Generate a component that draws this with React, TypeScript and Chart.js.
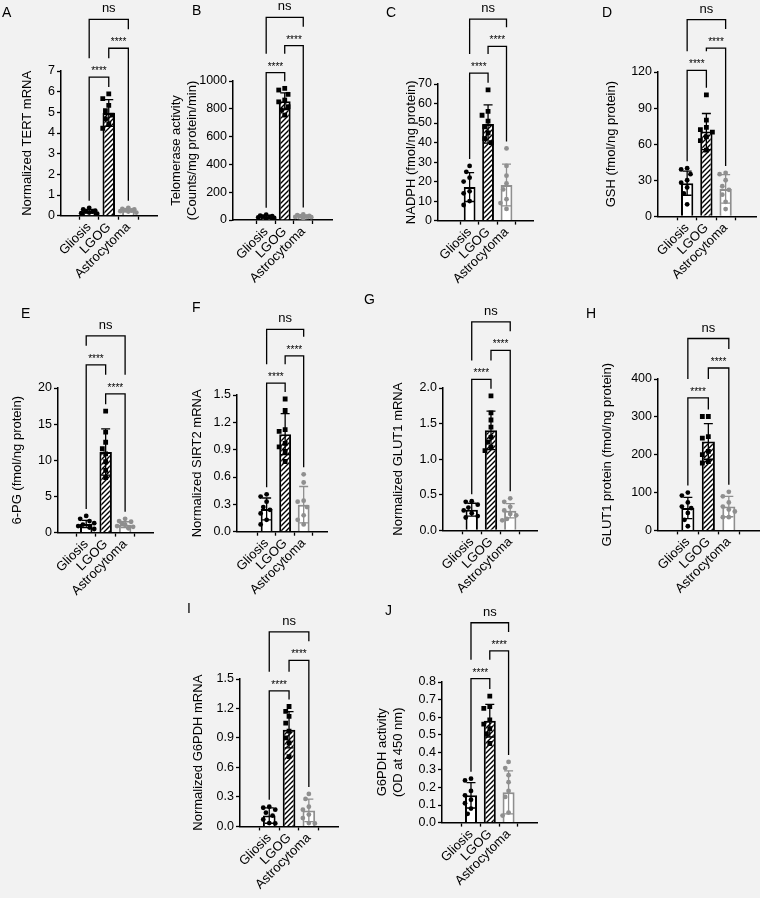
import React, { useEffect, useRef } from 'react';
import { Chart, registerables } from 'chart.js';

Chart.register(...registerables);

const FONT = '"Liberation Sans", Arial, Helvetica, sans-serif';
const GROUPS = ['Gliosis', 'LGOG', 'Astrocytoma'];
const PAIRS: [number, number][] = [[0, 1], [1, 2], [0, 2]];
const SIG = ['****', '****', 'ns'];

// ---- Panel A: Normalized TERT mRNA
const A_TICKS = [0, 1, 2, 3, 4, 5, 6, 7];
const A_MEAN = [0.21, 4.97, 0.26];
const A_SD = [0.09, 0.65, 0.07];
const A_GLIOSIS = [0.38, 0.3, 0.25, 0.22, 0.2, 0.15, 0.12, 0.1];
const A_LGOG = [5.89, 5.66, 5.34, 5.08, 4.87, 4.68, 4.44, 4.23];
const A_ASTRO = [0.38, 0.33, 0.3, 0.27, 0.25, 0.22, 0.2, 0.15];
const A_SIG_Y = [6.7, 8.1, 9.5];

// ---- Panel B: Telomerase activity
const B_TICKS = [0, 200, 400, 600, 800, 1000];
const B_MEAN = [23.5, 855, 26.8];
const B_SD = [9, 60, 8];
const B_GLIOSIS = [38, 32, 28, 25, 22, 18, 15, 10];
const B_LGOG = [947, 935, 904, 863, 850, 815, 791, 755];
const B_ASTRO = [40, 35, 30, 27, 25, 22, 20, 15];
const B_SIG_Y = [1060, 1254, 1458];

// ---- Panel C: NADPH
const C_TICKS = [0, 10, 20, 30, 40, 50, 60, 70];
const C_MEAN = [17.2, 49.5, 18.2];
const C_SD = [7.4, 9.8, 10.7];
const C_GLIOSIS = [28, 25, 22, 20, 15, 14, 10, 8];
const C_LGOG = [67, 56, 54, 51, 48, 45, 42, 40];
const C_ASTRO = [37, 28, 23, 19, 16, 11, 9, 6];
const C_SIG_Y = [75.6, 89.3, 103.2];

// ---- Panel D: GSH
const D_TICKS = [0, 30, 60, 90, 120];
const D_MEAN = [27.5, 70.5, 22.8];
const D_SD = [10, 15, 11.8];
const D_GLIOSIS = [40, 39, 35, 30, 28, 24, 19, 10];
const D_LGOG = [101, 80, 74, 72, 70, 66, 63, 55];
const D_ASTRO = [36, 35, 30, 25, 22, 18, 12, 6];
const D_SIG_Y = [121.4, 139.9, 163.5];

// ---- Panel E: 6-PG
const E_TICKS = [0, 5, 10, 15, 20];
const E_MEAN = [1.2, 11.15, 1.1];
const E_SD = [0.5, 3.2, 0.4];
const E_GLIOSIS = [2.3, 1.9, 1.6, 1.3, 1.1, 0.9, 0.7, 0.5];
const E_LGOG = [16.8, 13.9, 12.5, 11.6, 10.9, 9.8, 8.6, 7.6];
const E_ASTRO = [1.9, 1.6, 1.5, 1.3, 1.1, 0.9, 0.8, 0.6];
const E_SIG_Y = [23.2, 19.2, 27.2];

// ---- Panel F: Normalized SIRT2 mRNA
const F_TICKS = [0, 0.3, 0.6, 0.9, 1.2, 1.5];
const F_MEAN = [0.25, 1.07, 0.296];
const F_SD = [0.12, 0.225, 0.2];
const F_GLIOSIS = [0.41, 0.385, 0.33, 0.27, 0.24, 0.2, 0.13, 0.08];
const F_LGOG = [1.456, 1.33, 1.12, 1.1, 0.97, 0.93, 0.88, 0.77];
const F_ASTRO = [0.63, 0.54, 0.34, 0.33, 0.27, 0.18, 0.13, 0.08];
const F_SIG_Y = [1.63, 1.93, 2.22];

// ---- Panel G: Normalized GLUT1 mRNA
const G_TICKS = [0, 0.5, 1.0, 1.5, 2.0];
const G_MEAN = [0.29, 1.405, 0.276];
const G_SD = [0.09, 0.27, 0.1];
const G_GLIOSIS = [0.41, 0.4, 0.36, 0.32, 0.28, 0.24, 0.2, 0.18];
const G_LGOG = [1.89, 1.65, 1.55, 1.45, 1.31, 1.24, 1.17, 1.12];
const G_ASTRO = [0.45, 0.4, 0.33, 0.28, 0.23, 0.21, 0.16, 0.14];
const G_SIG_Y = [2.12, 2.53, 2.93];

// ---- Panel H: GLUT1 protein
const H_TICKS = [0, 100, 200, 300, 400];
const H_MEAN = [59, 235, 63];
const H_SD = [28, 47, 27];
const H_GLIOSIS = [100, 92, 74, 63, 59, 46, 28, 11];
const H_LGOG = [301, 301, 248, 244, 209, 200, 182, 178];
const H_ASTRO = [102, 90, 74, 63, 55, 50, 35, 35];
const H_SIG_Y = [350, 429, 507];

// ---- Panel I: Normalized G6PDH mRNA
const I_TICKS = [0, 0.3, 0.6, 0.9, 1.2, 1.5];
const I_MEAN = [0.11, 0.984, 0.163];
const I_SD = [0.078, 0.185, 0.115];
const I_GLIOSIS = [0.2, 0.19, 0.17, 0.14, 0.11, 0.07, 0.034, 0.03];
const I_LGOG = [1.22, 1.17, 1.12, 1.05, 0.97, 0.9, 0.85, 0.71];
const I_ASTRO = [0.33, 0.28, 0.2, 0.17, 0.12, 0.085, 0.034, 0.03];
const I_SIG_Y = [1.38, 1.69, 1.98];

// ---- Panel J: G6PDH activity
const J_TICKS = [0, 0.1, 0.2, 0.3, 0.4, 0.5, 0.6, 0.7, 0.8];
const J_MEAN = [0.155, 0.58, 0.172];
const J_SD = [0.072, 0.093, 0.122];
const J_GLIOSIS = [0.25, 0.24, 0.18, 0.155, 0.13, 0.11, 0.08, 0.05];
const J_LGOG = [0.72, 0.66, 0.65, 0.585, 0.56, 0.535, 0.505, 0.45];
const J_ASTRO = [0.345, 0.31, 0.27, 0.23, 0.18, 0.146, 0.057, 0.04];
const J_SIG_Y = [0.819, 0.977, 1.137];

type Layout = {
  axisX: number; axisR: number; yTop: number; yBot: number;
  xMin: number; xMax: number; titlePad: number; letterX: number; letterY: number;
};

type Spec = {
  letter: string; title: string | string[]; ticks: number[]; decimals: number;
  mean: number[]; sd: number[]; points: number[][]; sigY: number[]; layout: Layout;
};

const SPECS: Spec[] = [
  { letter: 'A', title: 'Normalized TERT mRNA', ticks: A_TICKS, decimals: 0, mean: A_MEAN, sd: A_SD,
    points: [A_GLIOSIS, A_LGOG, A_ASTRO], sigY: A_SIG_Y,
    layout: { axisX: 60.7, axisR: 157, yTop: 71, yBot: 215.7, xMin: -0.62, xMax: 2.66, titlePad: 28.5, letterX: 2, letterY: 5.2 } },
  { letter: 'B', title: ['Telomerase activity', '(Counts/mg protein/min)'], ticks: B_TICKS, decimals: 0, mean: B_MEAN, sd: B_SD,
    points: [B_GLIOSIS, B_LGOG, B_ASTRO], sigY: B_SIG_Y,
    layout: { axisX: 232.7, axisR: 331.7, yTop: 81, yBot: 220, xMin: -0.9, xMax: 2.66, titlePad: 5.2, letterX: 192, letterY: 3.2 } },
  { letter: 'C', title: 'NADPH (fmol/ng protein)', ticks: C_TICKS, decimals: 0, mean: C_MEAN, sd: C_SD,
    points: [C_GLIOSIS, C_LGOG, C_ASTRO], sigY: C_SIG_Y,
    layout: { axisX: 438.3, axisR: 534, yTop: 83.7, yBot: 220.3, xMin: -0.85, xMax: 2.61, titlePad: 35.3, letterX: 386, letterY: 5.2 } },
  { letter: 'D', title: 'GSH (fmol/ng protein)', ticks: D_TICKS, decimals: 0, mean: D_MEAN, sd: D_SD,
    points: [D_GLIOSIS, D_LGOG, D_ASTRO], sigY: D_SIG_Y,
    layout: { axisX: 658.3, axisR: 757, yTop: 71.7, yBot: 216, xMin: -0.66, xMax: 2.76, titlePad: 15.3, letterX: 602, letterY: 5.2 } },
  { letter: 'E', title: '6-PG (fmol/ng protein)', ticks: E_TICKS, decimals: 0, mean: E_MEAN, sd: E_SD,
    points: [E_GLIOSIS, E_LGOG, E_ASTRO], sigY: E_SIG_Y,
    layout: { axisX: 58.3, axisR: 154, yTop: 387.7, yBot: 532.3, xMin: -0.63, xMax: 2.65, titlePad: 20.9, letterX: 21, letterY: 306.2 } },
  { letter: 'F', title: 'Normalized SIRT2 mRNA', ticks: F_TICKS, decimals: 1, mean: F_MEAN, sd: F_SD,
    points: [F_GLIOSIS, F_LGOG, F_ASTRO], sigY: F_SIG_Y,
    layout: { axisX: 236.7, axisR: 326.7, yTop: 395, yBot: 531.7, xMin: -0.79, xMax: 2.45, titlePad: 22.5, letterX: 192, letterY: 300.2 } },
  { letter: 'G', title: 'Normalized GLUT1 mRNA', ticks: G_TICKS, decimals: 1, mean: G_MEAN, sd: G_SD,
    points: [G_GLIOSIS, G_LGOG, G_ASTRO], sigY: G_SIG_Y,
    layout: { axisX: 443.3, axisR: 538.3, yTop: 387.7, yBot: 530, xMin: -0.67, xMax: 2.62, titlePad: 16.9, letterX: 364, letterY: 292.2 } },
  { letter: 'H', title: 'GLUT1 protein (fmol/ng protein)', ticks: H_TICKS, decimals: 0, mean: H_MEAN, sd: H_SD,
    points: [H_GLIOSIS, H_LGOG, H_ASTRO], sigY: H_SIG_Y,
    layout: { axisX: 658.3, axisR: 760, yTop: 379.3, yBot: 530.7, xMin: -0.63, xMax: 2.68, titlePad: 11.3, letterX: 586, letterY: 306.2 } },
  { letter: 'I', title: 'Normalized G6PDH mRNA', ticks: I_TICKS, decimals: 1, mean: I_MEAN, sd: I_SD,
    points: [I_GLIOSIS, I_LGOG, I_ASTRO], sigY: I_SIG_Y,
    layout: { axisX: 240, axisR: 338.3, yTop: 679.3, yBot: 826.7, xMin: -0.65, xMax: 2.66, titlePad: 20.2, letterX: 187, letterY: 601.2 } },
  { letter: 'J', title: ['G6PDH activity', '(OD at 450 nm)'], ticks: J_TICKS, decimals: 1, mean: J_MEAN, sd: J_SD,
    points: [J_GLIOSIS, J_LGOG, J_ASTRO], sigY: J_SIG_Y,
    layout: { axisX: 441.7, axisR: 536.7, yTop: 681.7, yBot: 822.3, xMin: -0.7, xMax: 2.67, titlePad: 1.9, letterX: 385, letterY: 603 } },
];

const GRAY = '#8f8f8f';
const COLORS = ['#000000', '#000000', GRAY];
const LEFT = 70;
const TOP = 110;
const BOTTOM = 80;

function makeHatch(ctx: CanvasRenderingContext2D): CanvasPattern | string {
  const s = 5;
  const c = document.createElement('canvas');
  c.width = s;
  c.height = s;
  const g = c.getContext('2d');
  if (!g) return '#888';
  g.fillStyle = '#ffffff';
  g.fillRect(0, 0, s, s);
  g.strokeStyle = '#000000';
  g.lineWidth = 1.4;
  g.beginPath();
  g.moveTo(-1, s + 1); g.lineTo(s + 1, -1);
  g.moveTo(-1, 1); g.lineTo(1, -1);
  g.moveTo(s - 1, s + 1); g.lineTo(s + 1, s - 1);
  g.stroke();
  return ctx.createPattern(c, 'repeat') || '#888';
}

// deterministic beeswarm spread (pixel space) so dots do not overlap
function swarm(values: number[], pxPerUnit: number, pxPerX: number): number[] {
  const order = values.map((_, i) => i).sort((a, b) => values[b] - values[a]);
  const placed: { x: number; y: number }[] = [];
  const out = new Array(values.length).fill(0);
  const cands = [0, -5, 5, -9, 9, -12, 12];
  for (const i of order) {
    const y = values[i] * pxPerUnit;
    let best = 0;
    let bestD = -1;
    for (const c of cands) {
      const d = placed.length ? Math.min(...placed.map((p) => Math.hypot(p.x - c, p.y - y))) : 99;
      if (d >= 7) { best = c; bestD = d; break; }
      if (d > bestD) { bestD = d; best = c; }
    }
    placed.push({ x: best, y });
    out[i] = best / pxPerX;
  }
  return out;
}

function Panel({ spec }: { spec: Spec }) {
  const ref = useRef<HTMLCanvasElement>(null);
  const L = spec.layout;
  const plotW = L.axisR - L.axisX;
  const plotH = L.yBot - L.yTop;
  const W = Math.ceil(LEFT + plotW + 12);
  const H = Math.ceil(TOP + plotH + BOTTOM + 1);
  const padRight = W - LEFT - plotW;
  const padBottom = H - TOP - plotH - BOTTOM;

  useEffect(() => {
    const canvas = ref.current;
    if (!canvas) return;
    const ctx = canvas.getContext('2d') as CanvasRenderingContext2D;
    const hatch = makeHatch(ctx);
    const yMax = spec.ticks[spec.ticks.length - 1];
    const pxPerUnit = plotH / yMax;
    const pxPerX = plotW / (L.xMax - L.xMin);

    const scatterSets = spec.points.map((pts, g) => {
      const off = swarm(pts, pxPerUnit, pxPerX);
      return {
        type: 'scatter' as const,
        data: pts.map((v, k) => ({ x: g + off[k], y: v })),
        pointStyle: g === 1 ? 'rect' : 'circle',
        pointRadius: g === 1 ? 3.4 : 2.4,
        pointHoverRadius: g === 1 ? 3.4 : 2.4,
        backgroundColor: COLORS[g],
        borderColor: COLORS[g],
        borderWidth: 0,
        order: 1,
      };
    });

    const deco = {
      id: 'deco',
      afterDatasetDraw(chart: any, args: any) {
        if (args.index !== 0) return;
        const c = chart.ctx as CanvasRenderingContext2D;
        const x = chart.scales.x;
        const y = chart.scales.y;
        c.save();
        c.lineWidth = 1.3;
        spec.mean.forEach((m, i) => {
          const cx = x.getPixelForValue(i);
          const hi = y.getPixelForValue(m + spec.sd[i]);
          const lo = y.getPixelForValue(Math.max(0, m - spec.sd[i]));
          c.strokeStyle = COLORS[i];
          c.beginPath();
          c.moveTo(cx, lo); c.lineTo(cx, hi);
          c.moveTo(cx - 4.5, hi); c.lineTo(cx + 4.5, hi);
          c.moveTo(cx - 4.5, lo); c.lineTo(cx + 4.5, lo);
          c.stroke();
        });
        c.restore();
      },
      afterDraw(chart: any) {
        const c = chart.ctx as CanvasRenderingContext2D;
        const x = chart.scales.x;
        const y = chart.scales.y;
        const levels = spec.sigY.map((v) => y.getPixelForValue(v));
        const tops = [0, 1, 2].map((g) =>
          y.getPixelForValue(Math.max(...spec.points[g], spec.mean[g] + spec.sd[g])));
        c.save();
        c.strokeStyle = '#000';
        c.fillStyle = '#000';
        c.lineWidth = 1.3;
        c.lineJoin = 'miter';
        c.textAlign = 'center';
        c.textBaseline = 'alphabetic';
        PAIRS.forEach(([a, b], k) => {
          const lv = levels[k];
          const legEnd = (cat: number) => {
            let end = tops[cat] - 7;
            PAIRS.forEach(([a2, b2], j) => {
              if (j !== k && levels[j] > lv && a2 <= cat && cat <= b2) end = Math.min(end, levels[j] - 19);
            });
            return end;
          };
          const xa = x.getPixelForValue(a);
          const xb = x.getPixelForValue(b);
          c.beginPath();
          c.moveTo(xa, legEnd(a));
          c.lineTo(xa, lv);
          c.lineTo(xb, lv);
          c.lineTo(xb, legEnd(b));
          c.stroke();
          const label = SIG[k];
          if (label === 'ns') {
            c.font = `13px ${FONT}`;
            c.fillText(label, (xa + xb) / 2, lv - 7);
          } else {
            c.font = `10px ${FONT}`;
            c.fillText(label, (xa + xb) / 2, lv - 3);
          }
        });
        c.restore();
      },
    };

    const chart = new Chart(canvas, {
      type: 'bar',
      data: {
        datasets: [
          {
            type: 'bar',
            data: spec.mean.map((m, i) => ({ x: i, y: m })),
            backgroundColor: ['#ffffff', hatch, '#ffffff'],
            borderColor: COLORS,
            borderWidth: 2,
            barPercentage: 0.8,
            categoryPercentage: 0.8,
            order: 2,
          } as any,
          ...(scatterSets as any[]),
        ],
      },
      options: {
        responsive: false,
        animation: false,
        events: [],
        layout: { padding: { left: 0, top: TOP, right: padRight, bottom: padBottom } },
        plugins: { legend: { display: false }, tooltip: { enabled: false } },
        scales: {
          x: {
            type: 'linear',
            min: L.xMin,
            max: L.xMax,
            afterBuildTicks: (s: any) => { s.ticks = GROUPS.map((_, i) => ({ value: i })); },
            afterFit: (s: any) => { s.height = BOTTOM; s.paddingLeft = 0; s.paddingRight = 0; },
            ticks: {
              autoSkip: false,
              minRotation: 45,
              maxRotation: 45,
              padding: 0,
              color: '#000',
              font: { family: FONT, size: 13 },
              callback: (v: any) => GROUPS[Math.round(Number(v))] ?? '',
            },
            grid: { display: true, drawOnChartArea: false, drawTicks: true, tickLength: 4, tickColor: '#000', tickWidth: 1.3 },
            border: { display: true, color: '#000', width: 1.5 },
          },
          y: {
            type: 'linear',
            min: 0,
            max: yMax,
            afterBuildTicks: (s: any) => { s.ticks = spec.ticks.map((v) => ({ value: v })); },
            afterFit: (s: any) => { s.width = LEFT; },
            ticks: {
              autoSkip: false,
              padding: 2,
              color: '#000',
              font: { family: FONT, size: 12.5 },
              callback: (v: any) => Number(v).toFixed(spec.decimals),
            },
            grid: { display: true, drawOnChartArea: false, drawTicks: true, tickLength: 4, tickColor: '#000', tickWidth: 1.3 },
            border: { display: true, color: '#000', width: 1.5 },
            title: {
              display: true,
              text: spec.title,
              color: '#000',
              font: { family: FONT, size: 13, lineHeight: 1.25 },
              padding: { top: spec.layout.titlePad, bottom: 0 },
            },
          },
        },
      } as any,
      plugins: [deco],
    });
    return () => chart.destroy();
  }, []);

  return (
    <>
      <canvas
        ref={ref}
        width={W}
        height={H}
        style={{ position: 'absolute', left: L.axisX - LEFT, top: L.yTop - TOP, width: W, height: H }}
      />
      <div
        style={{
          position: 'absolute', left: L.letterX, top: L.letterY, fontFamily: FONT,
          fontSize: 14, lineHeight: 1, color: '#000',
        }}
      >
        {spec.letter}
      </div>
    </>
  );
}

export default function App() {
  return (
    <div
      style={{
        position: 'absolute', left: 0, top: 0, width: 760, height: 898,
        background: '#f2f2f2', overflow: 'hidden',
      }}
    >
      {SPECS.map((s) => (
        <Panel key={s.letter} spec={s} />
      ))}
    </div>
  );
}
